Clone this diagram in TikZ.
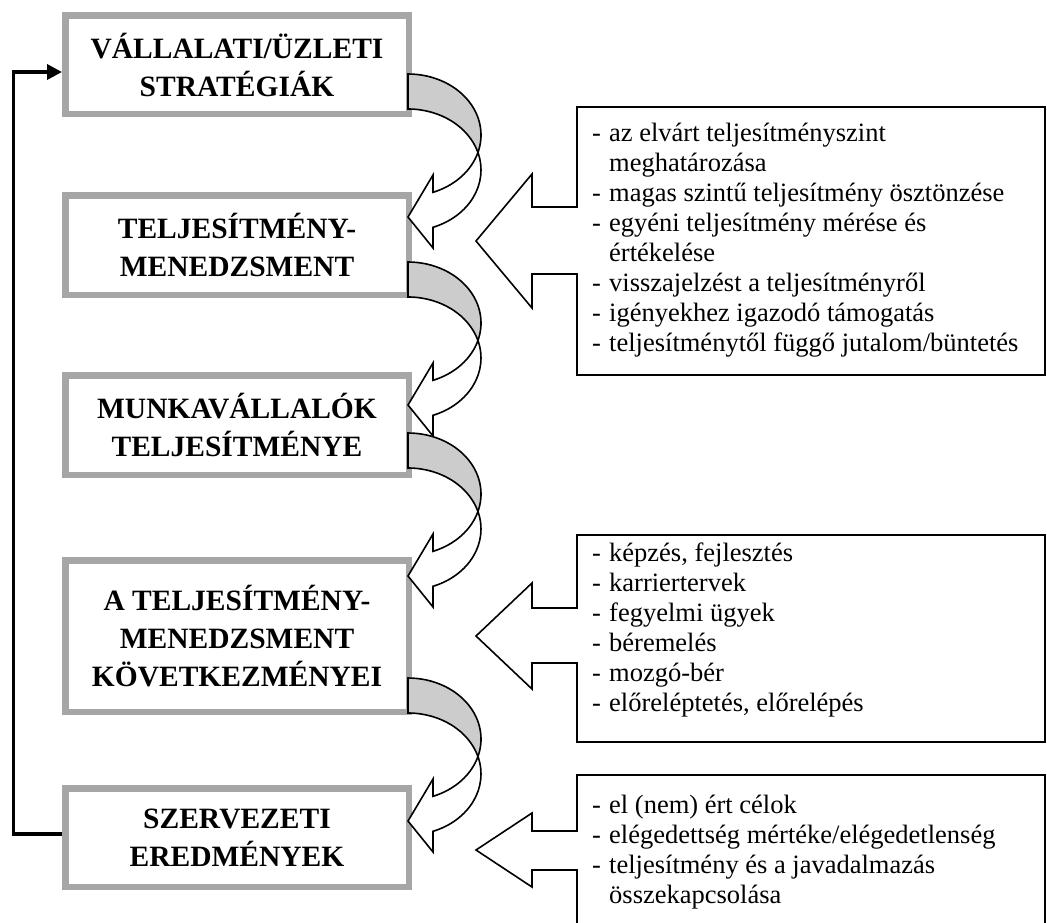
\documentclass[tikz,border=0pt]{standalone}
\usepackage{fontspec}
\setmainfont{Liberation Serif}
\usetikzlibrary{arrows.meta}

\definecolor{boxgray}{RGB}{166,166,166}
\definecolor{bandgray}{RGB}{204,204,204}

\newcommand\stagefont{\fontsize{29.5pt}{38pt}\selectfont\bfseries}
\newcommand\listfont{\fontsize{26.5pt}{30pt}\selectfont}
% list line with a leading dash / continuation line with the same hanging indent
\newcommand\ditem[1]{\makebox[17pt][l]{-}#1}
\newcommand\citem[1]{\hspace*{17pt}#1}

% curved "flow" arrow leaving the right side of a stage box (#1 = top of the band)
\newcommand\bendarrow[1]{%
  \begin{scope}[shift={(408,#1)}]
    \draw[bendline, fill=bandgray] (0,0)
      arc[start angle=90, end angle=-16.67, x radius=73pt, y radius=61pt]
      arc[start angle=16.67, end angle=90, x radius=73pt, y radius=61pt] -- cycle;
    \draw[bendline, fill=white] (69.93,78.5)
      arc[start angle=-16.67, end angle=-70, x radius=73pt, y radius=61pt]
      -- (25,101) -- (0,143) -- (25,174) -- (24.97,153.32)
      arc[start angle=-70, end angle=16.67, x radius=73pt, y radius=61pt] -- cycle;
  \end{scope}}

\begin{document}
\begin{tikzpicture}[x=1pt, y=-1pt,
  stage/.style={draw=boxgray, line width=6.5pt, fill=white, minimum width=343.5pt,
    align=center, font=\stagefont, inner sep=0pt},
  bendline/.style={draw=black, line width=1.6pt, line join=miter},
  callout/.style={draw=black, line width=1.6pt, fill=white, line join=miter},
  listline/.style={font=\listfont, inner sep=0pt, anchor=base west},
  feedback/.style={draw=black, line width=3.5pt, line join=miter}]

\useasboundingbox (0,0) rectangle (1047,922);

% stage boxes
\node[stage, minimum height=98.5pt] (b1) at (237,64.5) {VÁLLALATI/ÜZLETI\\STRATÉGIÁK};
\node[stage, minimum height=99.5pt] (b2) at (237,245) {TELJESÍTMÉNY-\\MENEDZSMENT};
\node[stage, minimum height=99.5pt] (b3) at (237,425) {MUNKAVÁLLALÓK\\TELJESÍTMÉNYE};
\node[stage, minimum height=151.5pt] (b4) at (237,636) {A TELJESÍTMÉNY-\\MENEDZSMENT\\KÖVETKEZMÉNYEI};
\node[stage, minimum height=98.5pt] (b5) at (237,837.5) {SZERVEZETI\\EREDMÉNYEK};

% curved arrows between consecutive stages
\bendarrow{74}
\bendarrow{262}
\bendarrow{433}
\bendarrow{678}

% feedback loop from the results back to the strategies
\coordinate (fbbot) at (13.5,834);
\coordinate (fbtop) at (13.5,72);
\draw[feedback, -{Triangle[length=15pt, width=15pt]}]
  (b5.west |- fbbot) -- (fbbot) -- (fbtop) -- (b1.west |- fbtop);

% callouts
\draw[callout] (577,107) -- (1045,107) -- (1045,375) -- (577,375) -- (577,274)
  -- (532,274) -- (532,308) -- (476,241) -- (532,174) -- (532,207) -- (577,207) -- cycle;
\draw[callout] (577,535) -- (1045,535) -- (1045,742) -- (577,742) -- (577,663)
  -- (532,663) -- (532,689) -- (476,636) -- (532,583) -- (532,608) -- (577,608) -- cycle;
\draw[callout] (577,775) -- (1045,775) -- (1045,926) -- (577,926) -- (577,870)
  -- (532,870) -- (532,887) -- (476,850) -- (532,813) -- (532,831) -- (577,831) -- cycle;

\foreach \txt [count=\i] in {{\ditem{az elvárt teljesítményszint}},
    {\citem{meghatározása}},
    {\ditem{magas szintű teljesítmény ösztönzése}},
    {\ditem{egyéni teljesítmény mérése és}},
    {\citem{értékelése}},
    {\ditem{visszajelzést a teljesítményről}},
    {\ditem{igényekhez igazodó támogatás}},
    {\ditem{teljesítménytől függő jutalom/büntetés}}}
  \node[listline] (pm\i) at (592,111.5+30*\i) {\txt};

\foreach \txt [count=\i] in {{\ditem{képzés, fejlesztés}},
    {\ditem{karriertervek}},
    {\ditem{fegyelmi ügyek}},
    {\ditem{béremelés}},
    {\ditem{mozgó-bér}},
    {\ditem{előreléptetés, előrelépés}}}
  \node[listline] (ks\i) at (592,531.5+30*\i) {\txt};

\foreach \txt [count=\i] in {{\ditem{el (nem) ért célok}},
    {\ditem{elégedettség mértéke/elégedetlenség}},
    {\ditem{teljesítmény és a javadalmazás}},
    {\citem{összekapcsolása}}}
  \node[listline] (se\i) at (592,783+30*\i) {\txt};

\end{tikzpicture}
\end{document}
